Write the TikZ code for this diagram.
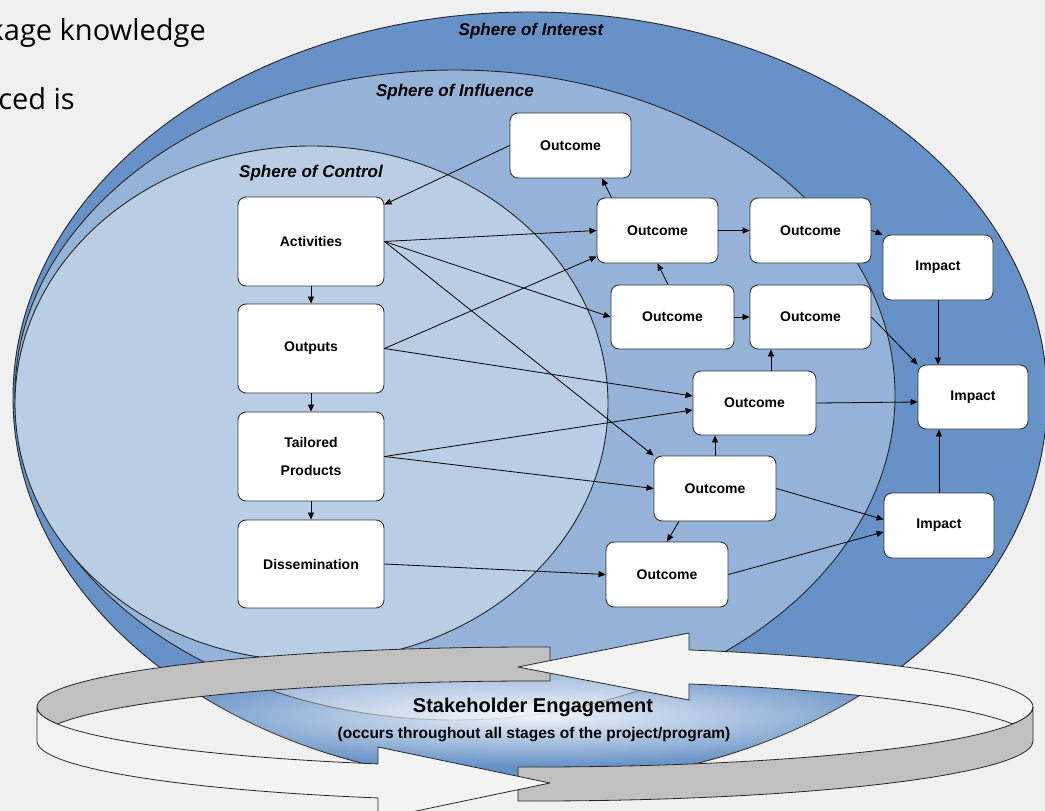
\documentclass[tikz,border=0pt]{standalone}
\usepackage{fontspec}
\setmainfont{Liberation Sans}
\newfontfamily\leftpagefont{Open Sans}
\usetikzlibrary{arrows.meta,fadings,calc}
\definecolor{bgc}{RGB}{240,240,240}
\definecolor{sphA}{RGB}{103,146,199}
\definecolor{sphB}{RGB}{149,179,216}
\definecolor{sphC}{RGB}{185,205,229}
\definecolor{ringG}{RGB}{192,192,192}
\definecolor{ringW}{RGB}{243,243,243}
\tikzfading[name=glowfade, inner color=transparent!0, outer color=transparent!100]
\tikzset{
  sphereline/.style={draw=black!85, line width=0.9pt},
  spherelabel/.style={font=\fontsize{17}{20}\selectfont\bfseries\itshape, inner sep=0pt},
  box/.style={draw=black!80, line width=0.9pt, fill=white, rounded corners=8pt, inner sep=0pt, align=center, font=\fontsize{14}{28}\selectfont\bfseries},
  ctrlbox/.style={box, minimum width=146pt, minimum height=89pt},
  outbox/.style={box, minimum width=122pt, minimum height=65pt},
  impbox/.style={box, minimum width=110pt, minimum height=65pt},
  conn/.style={draw=black, line width=0.8pt, -{Triangle[length=7pt,width=6pt]}},
  ringline/.style={draw=black!85, line width=0.8pt, line join=round},
  ringarc/.style={x radius=498, y radius=60},
  pagetext/.style={anchor=base east, font=\leftpagefont\fontsize{29}{34}\selectfont, inner sep=0pt},
}
\begin{document}
\begin{tikzpicture}[x=1pt,y=-1pt]
\useasboundingbox (0,0) rectangle (1045,811);
\fill[bgc] (0,0) rectangle (1045,811);
\begin{scope}
\clip (0,0) rectangle (1045,811);
% text of the page behind
\node[pagetext] (ptextA) at (206,40) {kage knowledge};
\node[pagetext] (ptextB) at (75,109) {ced is};
% spheres
\path[sphereline, fill=sphA] (530,398) ellipse[x radius=517, y radius=386];
\path[sphereline, fill=sphB] (455,395) ellipse[x radius=440, y radius=325];
\path[sphereline, fill=sphC] (311.5,403.5) ellipse[x radius=296.5, y radius=257.5];
\node[spherelabel] (lint) at (531,31) {Sphere of Interest};
\node[spherelabel] (linf) at (455,92) {Sphere of Influence};
\node[spherelabel] (lctl) at (311,173) {Sphere of Control};
% glow
\begin{scope}
\clip (530,398) ellipse[x radius=517, y radius=386];
\fill[white, path fading=glowfade, fill opacity=0.9] (535,716) ellipse[x radius=400, y radius=50];
\end{scope}
% ring
\coordinate (E1c) at (535,707);
\coordinate (E2c) at (535,741);
\draw[ringline, fill=ringG] ($(E1c)+(180:498 and 60)$) arc[ringarc, start angle=180, end angle=271.73]
  -- ($(E2c)+(271.73:498 and 60)$) arc[ringarc, start angle=271.73, end angle=196.46]
  arc[ringarc, start angle=163.54, end angle=180] -- cycle;
\draw[ringline, fill=ringW] ($(E1c)+(360:498 and 60)$) arc[ringarc, start angle=360, end angle=288.01]
  -- (689,633) -- (518,667) -- (689,700)
  -- ($(E2c)+(288.01:498 and 60)$) arc[ringarc, start angle=288.01, end angle=343.54]
  arc[ringarc, start angle=16.46, end angle=0] -- cycle;
\draw[ringline, fill=ringG] ($(E1c)+(0:498 and 60)$) arc[ringarc, start angle=0, end angle=91.96]
  -- ($(E2c)+(91.96:498 and 60)$) arc[ringarc, start angle=91.96, end angle=0] -- cycle;
\draw[ringline, fill=ringW] ($(E1c)+(180:498 and 60)$) arc[ringarc, start angle=180, end angle=108.38]
  -- (378,747) -- (550,783) -- (378,819)
  -- ($(E2c)+(108.38:498 and 60)$) arc[ringarc, start angle=108.38, end angle=180] -- cycle;
\node[font=\fontsize{20}{24}\selectfont\bfseries, inner sep=0pt] (se) at (533,707) {Stakeholder Engagement};
\node[font=\fontsize{15.5}{18}\selectfont\bfseries, inner sep=0pt] (sesub) at (534,735) {(occurs throughout all stages of the project/program)};
% boxes
\node[ctrlbox] (act) at (311,241.5) {Activities};
\node[ctrlbox] (outp) at (311,348.5) {Outputs};
\node[ctrlbox] (tail) at (311,456.5) {Tailored\\Products};
\node[ctrlbox, minimum height=88pt] (diss) at (311,564) {Dissemination};
\node[outbox, minimum width=121pt] (o1) at (570.5,145.5) {Outcome};
\node[outbox, minimum width=121pt] (o2) at (657.5,230.5) {Outcome};
\node[outbox, minimum width=121pt] (o3) at (810.5,230.5) {Outcome};
\node[impbox] (im1) at (938,267.5) {Impact};
\node[outbox, minimum width=123pt, minimum height=64pt] (o4) at (672.5,317) {Outcome};
\node[outbox, minimum width=121pt, minimum height=64pt] (o5) at (810.5,317) {Outcome};
\node[outbox, minimum width=123pt, minimum height=64pt] (o6) at (754.5,403) {Outcome};
\node[impbox, minimum height=64pt] (im2) at (973,397) {Impact};
\node[outbox] (o7) at (715,488.5) {Outcome};
\node[impbox] (im3) at (939,525.5) {Impact};
\node[outbox] (o8) at (667,574.5) {Outcome};
% connectors
\draw[conn] (act.south) -- (outp.north);
\draw[conn] (outp.south) -- (tail.north);
\draw[conn] (tail.south) -- (diss.north);
\draw[conn] (o1.west) -- ([yshift=-8pt]act.north east);
\draw[conn] (act.east) -- (o2.west);
\draw[conn] (act.east) -- (o4.west);
\draw[conn] (act.east) -- (o7.north west);
\draw[conn] (outp.east) -- ([yshift=-26pt]o2.west);
\draw[conn] (outp.east) -- ([yshift=7pt]o6.west);
\draw[conn] (tail.east) -- ([yshift=-7pt]o6.west);
\draw[conn] (tail.east) -- (o7.west);
\draw[conn] (diss.east) -- (o8.west);
\draw[conn] ([xshift=-46pt]o2.north) -- ([xshift=31.5pt]o1.south);
\draw[conn] (o2.east) -- (o3.west);
\draw[conn] ([xshift=-4.5pt]o4.north) -- (o2.south);
\draw[conn] (o4.east) -- (o5.west);
\draw[conn] (o3.east) -- (im1.north west);
\draw[conn] (im1.south) -- (im1.south |- im2.north);
\draw[conn] (o5.east) -- (im2.north west);
\draw[conn] ([xshift=16.5pt]o6.north) -- ([xshift=16.5pt]o6.north |- o5.south);
\draw[conn] (o6.east) -- ([yshift=-5pt]im2.west);
\draw[conn] (o7.north) -- (o7.north |- o6.south);
\draw[conn] (o7.east) -- ([yshift=6pt]im3.west);
\draw[conn] ([xshift=-36pt]o7.south) -- (o8.north);
\draw[conn] (o8.east) -- ([yshift=-6.5pt]im3.west);
\draw[conn] (im3.north) -- (im3.north |- im2.south);
\end{scope}
\end{tikzpicture}
\end{document}
